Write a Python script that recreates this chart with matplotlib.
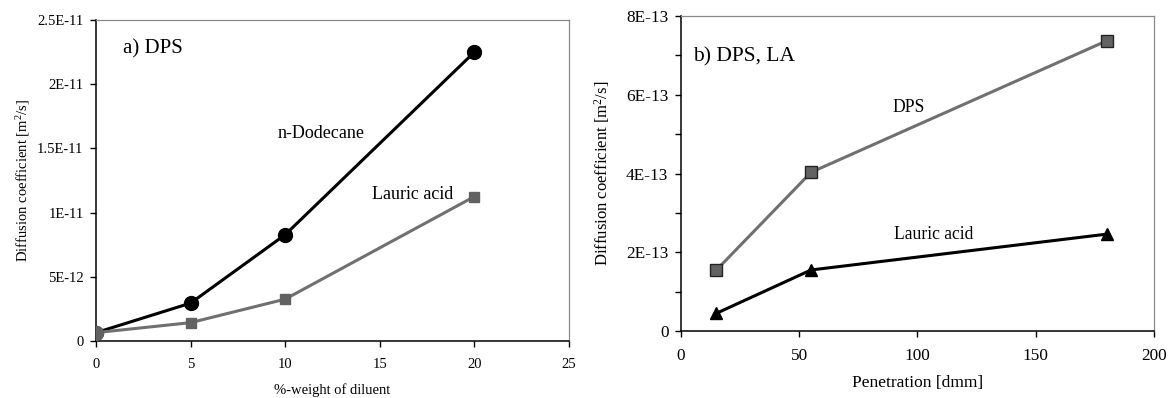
import numpy as np
import matplotlib
matplotlib.use('Agg')
import matplotlib.pyplot as plt
from matplotlib.ticker import FuncFormatter, MultipleLocator

plt.rcParams['font.family'] = ['Liberation Serif', 'DejaVu Serif']
plt.rcParams['mathtext.fontset'] = 'custom'
plt.rcParams['mathtext.rm'] = 'Liberation Serif'
plt.rcParams['mathtext.it'] = 'Liberation Serif:italic'

# a) DPS with diluent
wt_diluent = [0, 5, 10, 20]
d_dodecane = [0.65e-12, 2.95e-12, 8.28e-12, 22.5e-12]
d_lauric_a = [0.65e-12, 1.43e-12, 3.26e-12, 11.25e-12]

# b) diffusion vs penetration
penetration = [15, 55, 180]
d_dps = [1.55e-13, 4.03e-13, 7.37e-13]
d_lauric_b = [0.45e-13, 1.55e-13, 2.46e-13]

GRAY = '#707070'
SQ_FACE = '#626262'

fig = plt.figure(figsize=(11.68, 3.98), dpi=100)
ax1 = fig.add_axes([96 / 1168, 57 / 398, 473 / 1168, 321 / 398])
ax2 = fig.add_axes([681 / 1168, 67 / 398, 473 / 1168, 315 / 398])


def excel_fmt(v, pos):
    if v == 0:
        return '0'
    s = f'{v:.1E}'
    mant, exp = s.split('E')
    if mant.endswith('.0'):
        mant = mant[:-2]
    return f'{mant}E{int(exp)}'


def style_axes(ax, fs):
    for side in ('left', 'bottom'):
        ax.spines[side].set_color('black')
        ax.spines[side].set_linewidth(1.1)
    for side in ('top', 'right'):
        ax.spines[side].set_color('#8a8a8a')
        ax.spines[side].set_linewidth(0.9)
    ax.tick_params(direction='out', length=4, width=1.0, labelsize=fs,
                   top=False, right=False)
    ax.tick_params(axis='x', pad=8)
    ax.tick_params(axis='y', pad=5)


# left panel
ax1.plot(wt_diluent, d_dodecane, color='black', lw=2.2, marker='o', ms=10,
         mfc='black', mec='black', zorder=3)
ax1.plot(wt_diluent, d_lauric_a, color=GRAY, lw=2.2, marker='s', ms=6.5,
         mfc=SQ_FACE, mec=SQ_FACE, zorder=4)
ax1.plot(wt_diluent[0], d_lauric_a[0], 'o', ms=10, mfc=SQ_FACE, mec=SQ_FACE, zorder=5)
ax1.set_xlim(0, 25)
ax1.set_ylim(0, 2.5e-11)
ax1.xaxis.set_major_locator(MultipleLocator(5))
ax1.yaxis.set_major_locator(MultipleLocator(5e-12))
ax1.yaxis.set_major_formatter(FuncFormatter(excel_fmt))
style_axes(ax1, 10.5)
ax1.set_xlabel('%-weight of diluent', fontsize=10.5, labelpad=9)
ax1.set_ylabel('Diffusion coefficient [m$^2$/s]', fontsize=10.5, labelpad=4)
ax1.text(0.057, 0.91, 'a) DPS', fontsize=15, ha='left', va='center',
         transform=ax1.transAxes)
ax1.text(0.383, 0.645, 'n-Dodecane', fontsize=13, ha='left', va='center',
         transform=ax1.transAxes)
ax1.text(0.583, 0.455, 'Lauric acid', fontsize=13, ha='left', va='center',
         transform=ax1.transAxes)

# right panel
ax2.plot(penetration, d_dps, color=GRAY, lw=2.2, marker='s', ms=9,
         mfc=SQ_FACE, mec='#222222', mew=1.0, zorder=3)
ax2.plot(penetration, d_lauric_b, color='black', lw=2.2, marker='^', ms=9,
         mfc='black', mec='black', zorder=3)
ax2.set_xlim(0, 200)
ax2.set_ylim(0, 8e-13)
ax2.xaxis.set_major_locator(MultipleLocator(50))
ax2.yaxis.set_major_locator(MultipleLocator(1e-13))
ax2.yaxis.set_major_formatter(
    FuncFormatter(lambda v, p: excel_fmt(v, p) if round(v / 1e-13) % 2 == 0 else ''))
style_axes(ax2, 12.4)
ax2.set_xlabel('Penetration [dmm]', fontsize=12.5, labelpad=8)
ax2.set_ylabel('Diffusion coefficient [m$^2$/s]', fontsize=12, labelpad=10)
ax2.text(0.026, 0.87, 'b) DPS, LA', fontsize=15.5, ha='left', va='center',
         transform=ax2.transAxes)
ax2.text(0.447, 0.71, 'DPS', fontsize=12.7, ha='left', va='center',
         transform=ax2.transAxes)
ax2.text(0.45, 0.305, 'Lauric acid', fontsize=12.7, ha='left', va='center',
         transform=ax2.transAxes)

fig.savefig('out.png', dpi=100)
